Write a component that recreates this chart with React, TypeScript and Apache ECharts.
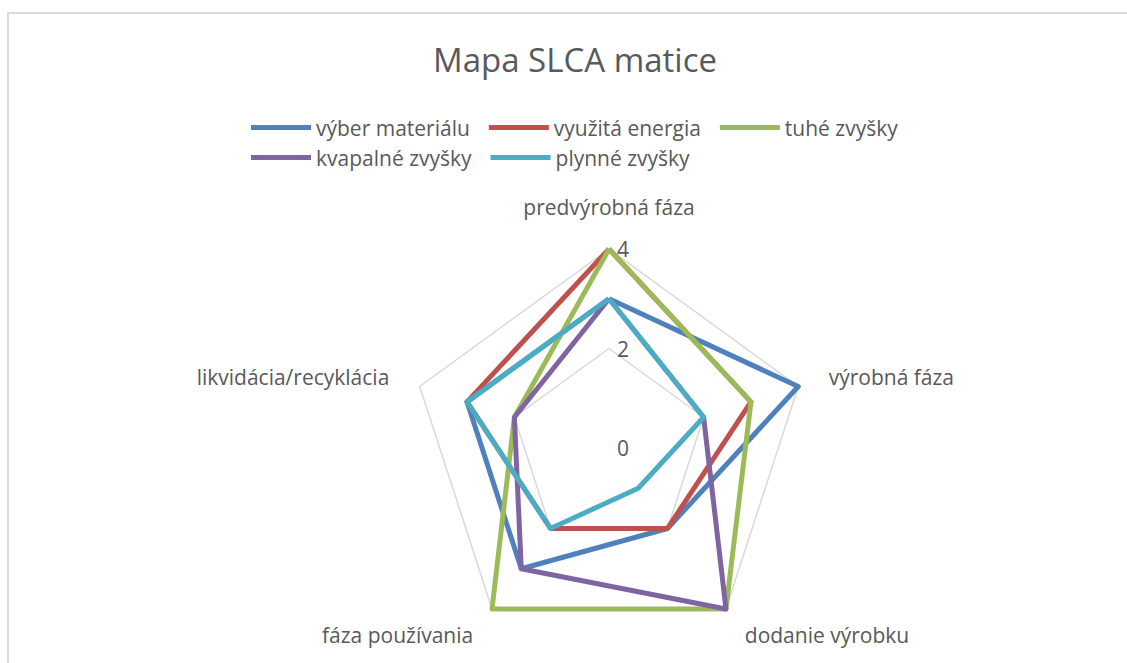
import React, { useEffect, useRef } from "react";
import * as echarts from "echarts";

const titleText = "Mapa SLCA matice";
const indicatorNames = [
  "predvýrobná fáza",
  "výrobná fáza",
  "dodanie výrobku",
  "fáza používania",
  "likvidácia/recyklácia",
];
const seriesNames = [
  "výber materiálu",
  "využitá energia",
  "tuhé zvyšky",
  "kvapalné zvyšky",
  "plynné zvyšky",
];
const vyberMaterialu = [3, 4, 2, 3, 3];
const vyuzitaEnergia = [4, 3, 2, 2, 3];
const tuheZvysky = [4, 3, 4, 4, 2];
const kvapalneZvysky = [3, 2, 4, 3, 2];
const plynneZvysky = [3, 2, 1, 2, 3];
const seriesValues = [vyberMaterialu, vyuzitaEnergia, tuheZvysky, kvapalneZvysky, plynneZvysky];
const colors = ["#4F81BD", "#C0504D", "#9BBB59", "#8064A2", "#4BACC6"];
const axisMax = 4;
const axisSplit = 2;

// ECharts places radar indicators counter-clockwise; Excel goes clockwise.
const order = [0, 4, 3, 2, 1];

const FONT = "Open Sans";
const TEXT = "#595959";

export default function App() {
  const ref = useRef<HTMLDivElement>(null);
  useEffect(() => {
    if (!ref.current) return;
    const chart = echarts.init(ref.current, undefined, { renderer: "svg" });
    const legendCommon = {
      itemWidth: 60,
      itemHeight: 5,
      itemGap: 19,
      icon: "rect",
      textStyle: { fontFamily: FONT, fontSize: 21, color: TEXT },
    };
    chart.setOption({
      animation: false,
      backgroundColor: "#ffffff",
      color: colors,
      title: {
        text: titleText,
        left: 428,
        top: 38,
        textStyle: { fontFamily: FONT, fontSize: 33, fontWeight: "normal", color: TEXT },
      },
      legend: [
        { ...legendCommon, left: 246, top: 112, data: seriesNames.slice(0, 3) },
        { ...legendCommon, left: 246, top: 142, data: seriesNames.slice(3) },
      ],
      graphic: [
        {
          type: "rect",
          shape: { x: 8, y: 13, width: 1200, height: 720 },
          style: { fill: "none", stroke: "#d9d9d9", lineWidth: 2 },
          silent: true,
        },
      ],
      radar: {
        center: [609, 448],
        radius: 199,
        startAngle: 90,
        splitNumber: axisMax / axisSplit,
        shape: "polygon",
        nameGap: 32,
        axisName: { fontFamily: FONT, fontSize: 21, color: TEXT },
        axisLine: { show: false },
        axisTick: { show: false },
        splitArea: { show: false },
        splitLine: { lineStyle: { color: "#d9d9d9", width: 1.5 } },
        axisLabel: { show: false },
        indicator: order.map((k, i) => ({
          name: indicatorNames[k],
          min: 0,
          max: axisMax,
          axisLabel:
            i === 0
              ? {
                  show: true,
                  fontFamily: FONT,
                  fontSize: 21,
                  color: TEXT,
                  margin: -20,
                  showMinLabel: true,
                }
              : { show: false },
        })),
      },
      series: [
        {
          type: "radar",
          symbol: "none",
          data: seriesNames.map((name, i) => ({
            name,
            value: order.map((k) => seriesValues[i][k]),
            lineStyle: { color: colors[i], width: 5 },
            itemStyle: { color: colors[i] },
          })),
        },
      ],
    });
    return () => chart.dispose();
  }, []);
  return (
    <div
      ref={ref}
      style={{ position: "fixed", left: 0, top: 0, width: 1127, height: 663, overflow: "hidden" }}
    />
  );
}
